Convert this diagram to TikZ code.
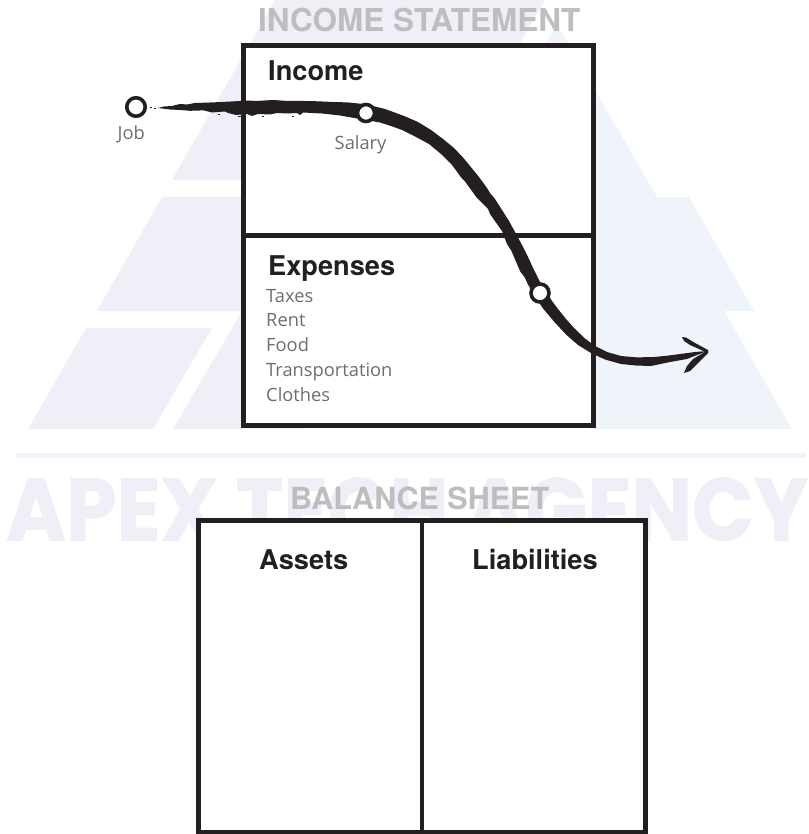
\documentclass[tikz,border=0pt]{standalone}
\usepackage{fontspec}
\usepackage{graphicx}
\setmainfont{Open Sans}
\newfontfamily\headfont{TeX Gyre Heros}[BoldFont=* Bold]
\newfontfamily\markfont{Poppins}[BoldFont=* Bold,BoldFeatures={FakeBold=1.2}]
\definecolor{inkblack}{HTML}{231F20}
\definecolor{wmpurple}{HTML}{EFEFF7}
\definecolor{wmblue}{HTML}{EFF4FB}
\definecolor{titlegray}{HTML}{BCBEC0}
\definecolor{labelgray}{HTML}{6D6E71}
\tikzset{
  wmshape/.style={fill=wmpurple,draw=none},
  wmblueshape/.style={fill=wmblue,draw=none},
  sheetbox/.style={draw=inkblack,fill=white,line width=5pt,rectangle,inner sep=0pt},
  divider/.style={draw=inkblack,line width=5pt},
  sheettitle/.style={font=\headfont\bfseries\fontsize{31.5}{32}\selectfont,text=titlegray,inner sep=0pt,anchor=base west},
  heading/.style={font=\headfont\bfseries\fontsize{27.2}{28}\selectfont,text=inkblack,inner sep=0pt,anchor=base west},
  itemtext/.style={font=\fontsize{18.3}{20}\selectfont,text=labelgray,inner sep=0pt,anchor=base west},
  stop/.style={circle,draw=inkblack,fill=white,line width=3.6pt,inner sep=0pt},
  brush/.style={fill=inkblack,draw=none}
}
\begin{document}
\begin{tikzpicture}[x=1pt,y=-1pt]
\useasboundingbox (0,0) rectangle (808,834);
\clip (0,0) rectangle (808,834);
% watermark
\fill[wmshape] (275,0) -- (545,0) -- (441,180) -- (172,180) -- cycle;
\fill[wmshape] (162,197) -- (400,197) -- (400,311) -- (97,311) -- cycle;
\fill[wmshape] (86,328) -- (212,328) -- (153,429) -- (28,429) -- cycle;
\fill[wmshape] (241,313) -- (370,313) -- (304,429) -- (173,429) -- cycle;
\fill[wmblueshape] (557,24) -- (657,197) -- (689,197) -- (754,311) -- (724,311) -- (792,429) -- (589,429) -- (450,210) -- cycle;
\fill[wmblue] (16,453) rectangle (806,458);
\node[inner sep=0pt,anchor=north west,text=wmpurple] (mark) at (6,477.5) {\resizebox{802pt}{62.5pt}{\markfont\bfseries APEX TECH AGENCY}};
% titles
\node[sheettitle] (incomeTitle) at (258,32) {INCOME STATEMENT};
\node[sheettitle,font=\headfont\bfseries\fontsize{30.5}{31}\selectfont] (balanceTitle) at (290,509.5) {BALANCE SHEET};
% income statement box
\node[sheetbox,minimum width=350pt,minimum height=380pt] (incomeBox) at (418.5,235.5) {};
\coordinate (incomeL) at (243.5,235);
\coordinate (incomeR) at (593.5,235);
\draw[divider] (incomeL) -- (incomeR);
\node[heading] (incomeHead) at (268,81) {Income};
\node[heading] (expHead) at (268,275) {Expenses};
\node[itemtext] (taxes) at (266,302) {Taxes};
\node[itemtext] (rent) at (266,326) {Rent};
\node[itemtext] (food) at (266,351) {Food};
\node[itemtext] (transport) at (266,376) {Transportation};
\node[itemtext] (clothes) at (266,401) {Clothes};
% balance sheet box
\node[sheetbox,minimum width=447pt,minimum height=311.5pt] (balanceBox) at (422,676.25) {};
\coordinate (balT) at (422,520.5);
\coordinate (balB) at (422,832);
\draw[divider,line width=4.6pt] (balT) -- (balB);
\node[heading] (assets) at (259,569) {Assets};
\node[heading] (liab) at (472,569) {Liabilities};
% brush stroke
\fill[brush] (158,108) -- (164,106.5) -- (172,106) -- (180,104) -- (187,104.5) -- (195,103) -- (210,102.5) -- (222,102) -- (240,101) -- (248,100.5) -- (256,101) -- (273,100) -- (285,100.8) -- (305,101) -- (318,101.3) -- (333,102) -- (348,102.4) -- (363,104) -- (375,106.5) -- (385,109) -- (395,112.6) -- (404,116) -- (418,122) -- (431,130) -- (443,139) -- (454,148) -- (463,157.5) -- (470,166) -- (479,177) -- (487,188) -- (490,193) -- (495,199) -- (502,210) -- (509,221) -- (515,232) -- (522,245) -- (528,257) -- (534,270) -- (540,282) -- (552,301) -- (558,309) -- (566,319) -- (575,329) -- (585,338.5) -- (595,346) -- (607,352) -- (621,356) -- (637,357.4) -- (654,357) -- (668,355.6) -- (680,354) -- (695,352) -- (707,351) -- (687,359) -- (670,362) -- (651,366) -- (636,365.5) -- (621,364) -- (605,359.5) -- (591,353) -- (578,345) -- (566,334.5) -- (554,321.5) -- (543,308.5) -- (535,296.5) -- (528,284.5) -- (524.5,277) -- (520.5,272) -- (517,264) -- (511.5,251) -- (507,244) -- (502,231) -- (490,214) -- (488,209) -- (477,198) -- (465,181.5) -- (462,178.5) -- (452,165) -- (441,154) -- (429,144) -- (416,137) -- (402,130) -- (391,126) -- (380,122.5) -- (360,119) -- (340,115.5) -- (322,113.5) -- (303,112.5) -- (300,115) -- (297,113) -- (287,113.5) -- (277,113) -- (270,114.5) -- (258,114) -- (252,116) -- (247,114) -- (236,115) -- (228,113) -- (225,111.5) -- (212,112.5) -- (204,110.5) -- (200,110.5) -- (190,110.8) -- (180,110) -- (170,109.5) -- cycle;
\fill[brush] (682,337) -- (686,337.5) -- (695,343) -- (708,350) -- (708,353) -- (690,345) -- (684,341) -- cycle;
\fill[brush] (708,350) -- (708,353) -- (696,365) -- (690,371) -- (684,373) -- (687,366) -- (693,359) -- cycle;
% frayed bits of the stroke
\foreach \x/\y/\l in {150/107/1.5,154/108/1.5,218/114/2,238/116/3,262/116/2,292/116/2} \fill[brush] (\x,\y) rectangle ++(\l,0.9);
% stops
\node[stop,minimum size=18.5pt] (job) at (136,107) {};
\node[stop,minimum size=17pt] (salary) at (366,113) {};
\node[stop,minimum size=18pt] (third) at (540,293) {};
\node[itemtext] (jobLabel) at (117.5,140) {Job};
\node[itemtext] (salaryLabel) at (334.5,150) {Salary};
\end{tikzpicture}
\end{document}
